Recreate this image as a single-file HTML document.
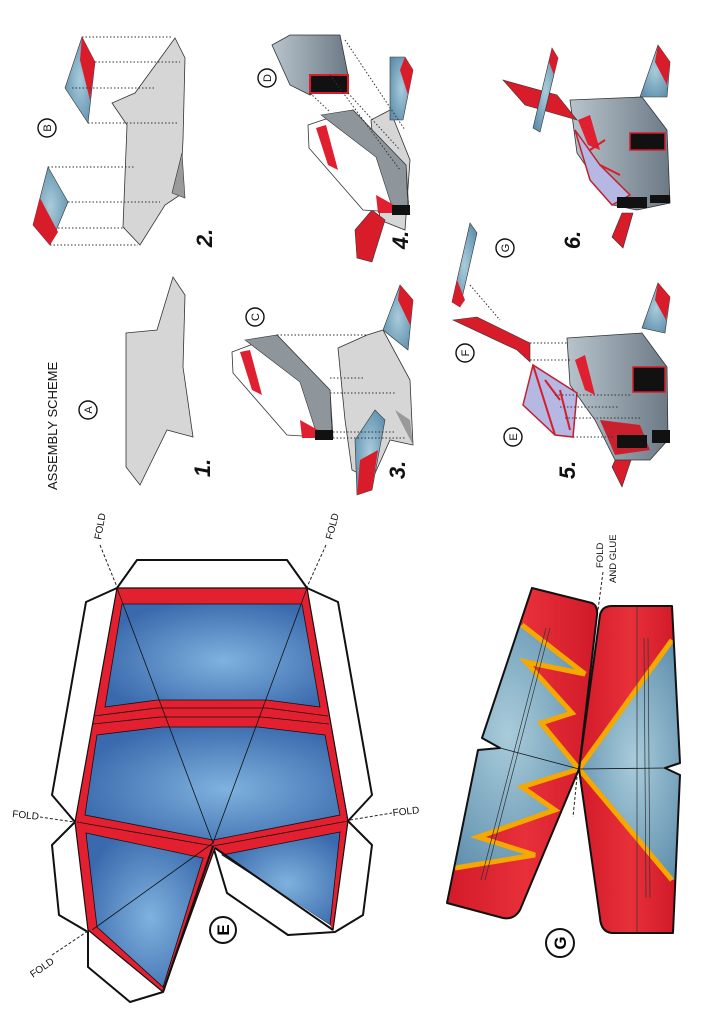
<!DOCTYPE html>
<html><head><meta charset="utf-8"><style>
html,body{margin:0;padding:0;background:#fff}
svg{display:block}
text{font-family:"Liberation Sans",sans-serif}
</style></head><body>
<svg width="724" height="1024" viewBox="0 0 724 1024" xmlns="http://www.w3.org/2000/svg">
<defs>
<radialGradient id="bl" cx="0.55" cy="0.55" r="0.6"><stop offset="0" stop-color="#7fb2de"/><stop offset="1" stop-color="#3a6aad"/></radialGradient>
<radialGradient id="gb" cx="0.5" cy="0.5" r="0.6"><stop offset="0" stop-color="#a9ccdb"/><stop offset="1" stop-color="#5f8fad"/></radialGradient>
<linearGradient id="rd" x1="0" x2="1"><stop offset="0" stop-color="#d01828"/><stop offset="0.5" stop-color="#e8303a"/><stop offset="1" stop-color="#cc1626"/></linearGradient>
<linearGradient id="gr" x1="0" x2="1"><stop offset="0" stop-color="#b8c4cc"/><stop offset="1" stop-color="#6c7a86"/></linearGradient>
<clipPath id="lw"><path d="M532,588 L592,603 Q598,606 597,615 L579,769 L520,910 Q514,920 503,918 L447,903 L478,750 L500,748 L482,738 Z"/></clipPath>
<clipPath id="rw"><path d="M600,615 Q602,606 612,606 L672,606 L680,763 L665,768 L680,775 L673,933 L612,933 Q601,932 600,918 L579,769 Z"/></clipPath>
</defs>

<!-- ===== E piece ===== -->
<g stroke="#111" stroke-width="2" fill="#fff" stroke-linejoin="round">
<path d="M117,588 L137,560 L287,560 L307,588 L338,602 L372,795 L348,821 L372,845 L363,915 L335,932 L288,935 L227,893 L213,846 L163,992 L130,1002 L88,967 L88,932 L59,915 L52,845 L75,822 L52,795 L86,602 Z"/>
</g>
<path d="M117,588 L307,588 L348,821 L333,930 L215,848 L163,992 L88,930 L75,822 Z" fill="#e32030" stroke="#111" stroke-width="1.2"/>
<g fill="url(#bl)" stroke="#111" stroke-width="0.8">
<path d="M122,604 L302,604 L320,707 L267,700 L157,700 L105,707 Z"/>
<path d="M97,735 L162,727 L258,727 L325,735 L340,815 L213,840 L85,815 Z"/>
<path d="M86,833 L203,858 L163,987 L97,927 Z"/>
<path d="M222,855 L340,832 L330,925 Z"/>
</g>
<path d="M228,858 L330,925 L333,930 Z" fill="#fff"/>
<g stroke="#111" stroke-width="0.8" fill="none">
<path d="M94,716 L157,708 L267,708 L328,716"/>
<path d="M93,724 L160,717 L262,717 L329,724"/>
<path d="M77,822 L213,846 L348,821"/>
<path d="M117,588 L213,843 L307,588"/>
<path d="M213,843 L92,930"/>
</g>
<path d="M213,846 L163,992 M215,848 L333,930" stroke="#111" stroke-width="2" fill="none"/>
<g stroke="#222" stroke-width="1" stroke-dasharray="3,2" fill="none">
<path d="M100,545 L117,587"/><path d="M326,545 L307,587"/>
<path d="M40,817 L74,822"/><path d="M350,820 L392,813"/>
<path d="M52,955 L88,931"/>
</g>
<g font-size="10" fill="#111">
<text transform="translate(101,540) rotate(-80)">FOLD</text>
<text transform="translate(332,540) rotate(-75)">FOLD</text>
<text x="12" y="817" transform="rotate(6 12 817)">FOLD</text>
<text x="393" y="816" transform="rotate(-6 393 816)">FOLD</text>
<text transform="translate(33,978) rotate(-35)">FOLD</text>
</g>
<circle cx="223" cy="930" r="13" fill="#fff" stroke="#111" stroke-width="2"/>
<text transform="translate(223,930) rotate(-90)" text-anchor="middle" dy="6" font-size="17" font-weight="bold">E</text>

<!-- ===== G piece ===== -->
<g clip-path="url(#lw)">
<rect x="440" y="580" width="170" height="350" fill="url(#rd)"/>
<path d="M522,625 L585,674 L526,662 L572,713 L541,723 L579,769 L522,787 L555,810 L478,837 L535,855 L455,868 L430,868 L430,600 Z" fill="url(#gb)"/>
<path d="M522,625 L585,674 L526,662 L572,713 L541,723 L579,769 L522,787 L555,810 L478,837 L535,855 L455,868" fill="none" stroke="#f5a800" stroke-width="5" stroke-linejoin="miter"/>
<path d="M546,628 L481,880 M550,628 L485,880" stroke="#333" stroke-width="0.7"/>
</g>
<g clip-path="url(#rw)">
<rect x="575" y="600" width="110" height="340" fill="url(#rd)"/>
<path d="M579,769 L672,640 L690,640 L690,880 L672,880 Z" fill="url(#gb)"/>
<path d="M579,769 L672,640 M579,769 L672,880" stroke="#f5a800" stroke-width="5"/>
<path d="M637,606 L637,933 M644,638 L646,898 M648,638 L650,898" stroke="#333" stroke-width="0.7"/>
</g>
<g fill="none" stroke="#111" stroke-width="2" stroke-linejoin="round">
<path d="M532,588 L592,603 Q598,606 597,615 L579,769 L520,910 Q514,920 503,918 L447,903 L478,750 L500,748 L482,738 Z"/>
<path d="M600,615 Q602,606 612,606 L672,606 L680,763 L665,768 L680,775 L673,933 L612,933 Q601,932 600,918 L579,769 Z"/>
</g>
<path d="M579,769 L500,748 M579,769 L665,768" stroke="#111" stroke-width="0.8"/>
<g stroke="#222" stroke-width="1" stroke-dasharray="3,2"><path d="M603,572 L598,610"/><path d="M577,777 L573,817"/></g>
<text transform="translate(603,568) rotate(-90)" font-size="9.5" fill="#111">FOLD</text>
<text transform="translate(616,583) rotate(-90)" font-size="9.5" fill="#111">AND GLUE</text>
<circle cx="560" cy="943" r="14" fill="#fff" stroke="#111" stroke-width="2"/>
<text transform="translate(560,943) rotate(-90)" text-anchor="middle" dy="6" font-size="17" font-weight="bold">G</text>

<!-- ===== Assembly scheme ===== -->
<text transform="translate(57,490) rotate(-90)" font-size="13" fill="#111">ASSEMBLY SCHEME</text>
<g font-size="22" font-weight="bold" font-style="italic" fill="#111" text-anchor="middle">
<text transform="translate(210,468) rotate(-90)">1.</text>
<text transform="translate(212,238) rotate(-90)">2.</text>
<text transform="translate(405,470) rotate(-90)">3.</text>
<text transform="translate(408,240) rotate(-90)">4.</text>
<text transform="translate(575,470) rotate(-90)">5.</text>
<text transform="translate(580,240) rotate(-90)">6.</text>
</g>
<g fill="#fff" stroke="#111" stroke-width="1.4">
<circle cx="88" cy="410" r="9"/><circle cx="47" cy="128" r="9"/><circle cx="255" cy="317" r="9"/><circle cx="267" cy="78" r="9"/><circle cx="513" cy="437" r="9"/><circle cx="465" cy="353" r="9"/><circle cx="505" cy="248" r="9"/>
</g>
<g font-size="11" text-anchor="middle" fill="#111">
<text transform="translate(88,410) rotate(-90)" dy="4">A</text>
<text transform="translate(47,128) rotate(-90)" dy="4">B</text>
<text transform="translate(255,317) rotate(-90)" dy="4">C</text>
<text transform="translate(267,78) rotate(-90)" dy="4">D</text>
<text transform="translate(513,437) rotate(-90)" dy="4">E</text>
<text transform="translate(465,353) rotate(-90)" dy="4">F</text>
<text transform="translate(505,248) rotate(-90)" dy="4">G</text>
</g>

<!-- step 1 -->
<path d="M126,467 L126,333 L157,330 L173,277 L185,295 L183,367 L193,437 L167,430 L140,485 Z" fill="#d6d6d6" stroke="#333" stroke-width="0.8"/>
<!-- step 2 -->
<path d="M123,227 L127,125 L112,103 L135,93 L175,38 L185,58 L183,140 L180,195 L165,205 L140,245 Z" fill="#d6d6d6" stroke="#333" stroke-width="0.8"/>
<path d="M172,193 L182,153 L185,198 Z" fill="#9a9a9a" stroke="#333" stroke-width="0.6"/>
<path d="M33,225 L48,167 L68,202 L50,245 Z" fill="url(#gb)" stroke="#333" stroke-width="0.6"/>
<path d="M33,225 L40,198 L58,232 L50,245 Z" fill="#d81c2a"/>
<path d="M65,88 L82,37 L95,62 L88,123 Z" fill="url(#gb)" stroke="#333" stroke-width="0.6"/>
<path d="M82,37 L95,62 L90,100 L80,60 Z" fill="#d81c2a"/>
<g stroke="#333" stroke-width="1" stroke-dasharray="1.5,2" fill="none">
<path d="M50,245 L138,245 M58,228 L125,228 M68,202 L160,202 M48,167 L135,167"/>
<path d="M88,123 L178,123 M95,62 L180,62 M82,37 L172,37 M72,88 L155,88"/>
</g>

<!-- step 3 -->
<path d="M338,348 L367,335 L383,330 L410,380 L413,445 L390,440 L372,480 L352,470 L345,420 Z" fill="#d6d6d6" stroke="#333" stroke-width="0.8"/>
<path d="M395,410 L410,420 L413,445 Z" fill="#999"/>
<path d="M383,330 L400,285 L413,300 L408,350 Z" fill="url(#gb)" stroke="#333" stroke-width="0.6"/>
<path d="M400,285 L413,300 L410,325 L398,300 Z" fill="#d81c2a"/>
<path d="M355,440 L375,410 L385,420 L372,490 L357,495 Z" fill="url(#gb)" stroke="#333" stroke-width="0.6"/>
<path d="M357,495 L360,460 L378,450 L372,490 Z" fill="#d81c2a"/>
<path d="M232,352 L277,335 L330,390 L333,438 L287,435 L233,373 Z" fill="#fff" stroke="#333" stroke-width="0.8"/>
<path d="M245,340 L277,335 L330,390 L332,438 L318,438 L300,382 Z" fill="#8e959b" stroke="#333" stroke-width="0.6"/>
<path d="M240,352 L250,350 L262,395 L252,390 Z" fill="#e02030"/>
<path d="M300,420 L318,430 L318,438 L302,438 Z" fill="#e02030"/>
<rect x="315" y="430" width="18" height="10" fill="#111"/>
<g stroke="#333" stroke-width="1" stroke-dasharray="1.5,2"><path d="M277,335 L368,335 M330,378 L365,378 M330,393 L395,393 M333,432 L395,432 M333,438 L405,438"/></g>

<!-- step 4 -->
<path d="M371,120 L390,110 L410,160 L405,230 L380,220 Z" fill="#d6d6d6" stroke="#333" stroke-width="0.8"/>
<path d="M390,57 L405,57 L413,70 L403,120 L390,120 Z" fill="url(#gb)" stroke="#333" stroke-width="0.6"/>
<path d="M405,57 L413,70 L408,95 L400,70 Z" fill="#d81c2a"/>
<path d="M355,230 L372,210 L385,220 L372,262 L357,258 Z" fill="#d81c2a" stroke="#333" stroke-width="0.6"/>
<path d="M308,125 L353,110 L406,165 L409,213 L363,210 L309,148 Z" fill="#fff" stroke="#333" stroke-width="0.8"/>
<path d="M321,115 L353,110 L406,165 L408,213 L394,213 L376,157 Z" fill="#8e959b" stroke="#333" stroke-width="0.6"/>
<path d="M316,128 L326,125 L338,170 L328,165 Z" fill="#e02030"/>
<path d="M376,195 L394,205 L394,213 L378,213 Z" fill="#e02030"/>
<rect x="392" y="205" width="18" height="10" fill="#111"/>
<path d="M272,45 L290,35 L340,35 L348,75 L310,95 L290,85 Z" fill="url(#gr)" stroke="#333" stroke-width="0.8"/>
<rect x="310" y="75" width="38" height="18" fill="#111" stroke="#d81c2a" stroke-width="2"/>
<g stroke="#333" stroke-width="1" stroke-dasharray="1.5,2"><path d="M310,93 L330,112 M348,93 L400,150 M345,40 L405,130 M330,75 L400,170"/></g>

<!-- step 5 -->
<path d="M642,328 L658,283 L670,297 L665,333 Z" fill="url(#gb)" stroke="#333" stroke-width="0.6"/>
<path d="M658,283 L670,297 L666,320 L655,300 Z" fill="#d81c2a"/>
<path d="M612,467 L623,443 L635,448 L622,487 Z" fill="#d81c2a" stroke="#333" stroke-width="0.6"/>
<path d="M567,338 L642,333 L667,367 L668,440 L650,460 L615,460 L595,420 L570,385 Z" fill="url(#gr)" stroke="#333" stroke-width="0.8"/>
<path d="M575,360 L585,355 L595,395 L585,390 Z" fill="#e02030"/>
<path d="M600,420 L640,425 L650,450 L615,455 Z" fill="#c8202c"/>
<rect x="633" y="367" width="32" height="25" fill="#111" stroke="#d81c2a" stroke-width="1.5"/>
<rect x="617" y="435" width="30" height="13" fill="#111"/>
<rect x="652" y="430" width="18" height="13" fill="#111"/>
<path d="M523,405 L533,365 L577,393 L573,437 L555,435 Z" fill="#b4b8e2" stroke="#c02030" stroke-width="1.5"/>
<path d="M533,365 L555,435 M545,380 L560,400 M560,390 L570,430" stroke="#d81c2a" stroke-width="2"/>
<path d="M453,320 L477,317 L530,343 L530,362 L517,350 Z" fill="#d81c2a" stroke="#333" stroke-width="0.6"/>
<path d="M452,302 L470,223 L477,233 L460,307 Z" fill="url(#gb)" stroke="#333" stroke-width="0.6"/>
<path d="M452,302 L457,280 L465,300 L460,307 Z" fill="#d81c2a"/>
<g stroke="#333" stroke-width="1" stroke-dasharray="1.5,2"><path d="M530,343 L568,343 M530,360 L572,360 M555,395 L630,395 M560,407 L618,407 M565,418 L640,418 M573,437 L615,437 M470,285 L500,320"/></g>

<!-- step 6 -->
<path d="M640,97 L658,45 L670,62 L667,97 Z" fill="url(#gb)" stroke="#333" stroke-width="0.6"/>
<path d="M658,45 L670,62 L667,85 L655,62 Z" fill="#d81c2a"/>
<path d="M612,237 L622,213 L633,213 L623,248 Z" fill="#d81c2a" stroke="#333" stroke-width="0.6"/>
<path d="M570,100 L642,97 L667,130 L670,203 L637,210 L613,205 L577,153 Z" fill="url(#gr)" stroke="#333" stroke-width="0.8"/>
<path d="M575,130 L600,165 L630,195 L612,205 L590,180 Z" fill="#b4b8e2" stroke="#c02030" stroke-width="1.5"/>
<path d="M578,120 L590,115 L600,150 L588,145 Z" fill="#e02030"/>
<path d="M600,165 L620,175 M590,150 L605,140" stroke="#d81c2a" stroke-width="2"/>
<rect x="630" y="133" width="35" height="17" fill="#111" stroke="#d81c2a" stroke-width="1.5"/>
<rect x="617" y="197" width="30" height="11" fill="#111"/>
<rect x="650" y="195" width="20" height="8" fill="#111"/>
<path d="M503,80 L557,95 L577,120 L525,105 Z" fill="#d81c2a" stroke="#333" stroke-width="0.6"/>
<path d="M533,128 L552,48 L558,58 L540,132 Z" fill="url(#gb)" stroke="#333" stroke-width="0.6"/>
<path d="M552,48 L558,58 L554,75 L549,62 Z" fill="#d81c2a"/>
</svg>
</body></html>
